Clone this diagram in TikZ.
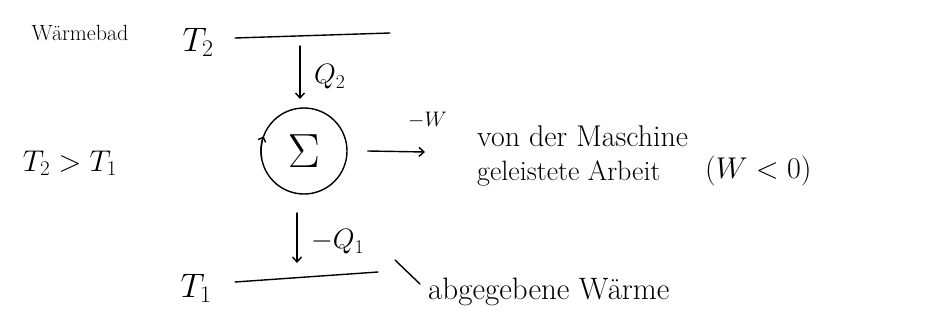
\RequirePackage{fix-cm}
\documentclass[tikz,border=0pt]{standalone}
\usepackage{fontspec}
\usetikzlibrary{arrows.meta}
\begin{document}
\begin{tikzpicture}[x=1pt,y=-1pt,
  txt/.style={inner sep=0pt, font=\fontsize{#1}{#1}\selectfont},
  flow/.style={line width=1.4pt, line cap=round, -{Straight Barb[length=5pt,width=9pt]}},
  bath/.style={line width=1.4pt, line cap=round},
  sysbox/.style={circle, draw, line width=1.4pt, minimum size=86pt, inner sep=0pt}
]
\useasboundingbox (0,0) rectangle (942,321);

% labels left
\node[txt=22] (wb) at (80,33) {Wärmebad};
\node[txt=30] (ineq) at (70,163) {$T_2 > T_1$};

% hot bath
\node[txt=34] (t2) at (198,42) {$T_2$};
\coordinate (b2l) at (235,38);
\coordinate (b2r) at (390,33);
\draw[bath] (b2l) -- (b2r);

% system
\node[sysbox] (sig) at (304,151) {\fontsize{48}{48}\selectfont$\Sigma$};
\draw[line width=1.4pt, -{Straight Barb[length=4pt,width=8pt]}] (sig.center) ++(170:43) arc[start angle=170, end angle=200, radius=43];

% Q2
\coordinate (q2s) at (300,46);
\draw[flow] (q2s) -- (q2s |- 0,99);
\node[txt=28, anchor=west] (q2) at (314,77) {$Q_2$};

% work
\coordinate (wtip) at (425,152);
\draw[flow] ([xshift=20pt]sig.east) -- (wtip);
\node[txt=21, anchor=west] (w) at (408,120) {$-W$};
\node[txt=30, anchor=west] (von) at (477,136) {von der Maschine};
\node[txt=28, anchor=west] (gel) at (477,173) {geleistete Arbeit};
\node[txt=30, anchor=west] (wlt) at (705,171) {$(W<0)$};

% Q1
\coordinate (q1s) at (297,213);
\coordinate (q1e) at (297,263);
\draw[flow] (q1s) -- (q1e);
\node[txt=28, anchor=west] (q1) at (311,242) {$-Q_1$};

% cold bath
\node[txt=34] (t1) at (196,288) {$T_1$};
\coordinate (b1l) at (235,282);
\coordinate (b1r) at (378,272);
\draw[bath] (b1l) -- (b1r);
\coordinate (tk) at (395,260);
\node[txt=31, anchor=west] (abg) at (428,292) {abgegebene Wärme};
\draw[bath] (tk) -- ([shift={(-8pt,8pt)}]abg.west);
\end{tikzpicture}
\end{document}
